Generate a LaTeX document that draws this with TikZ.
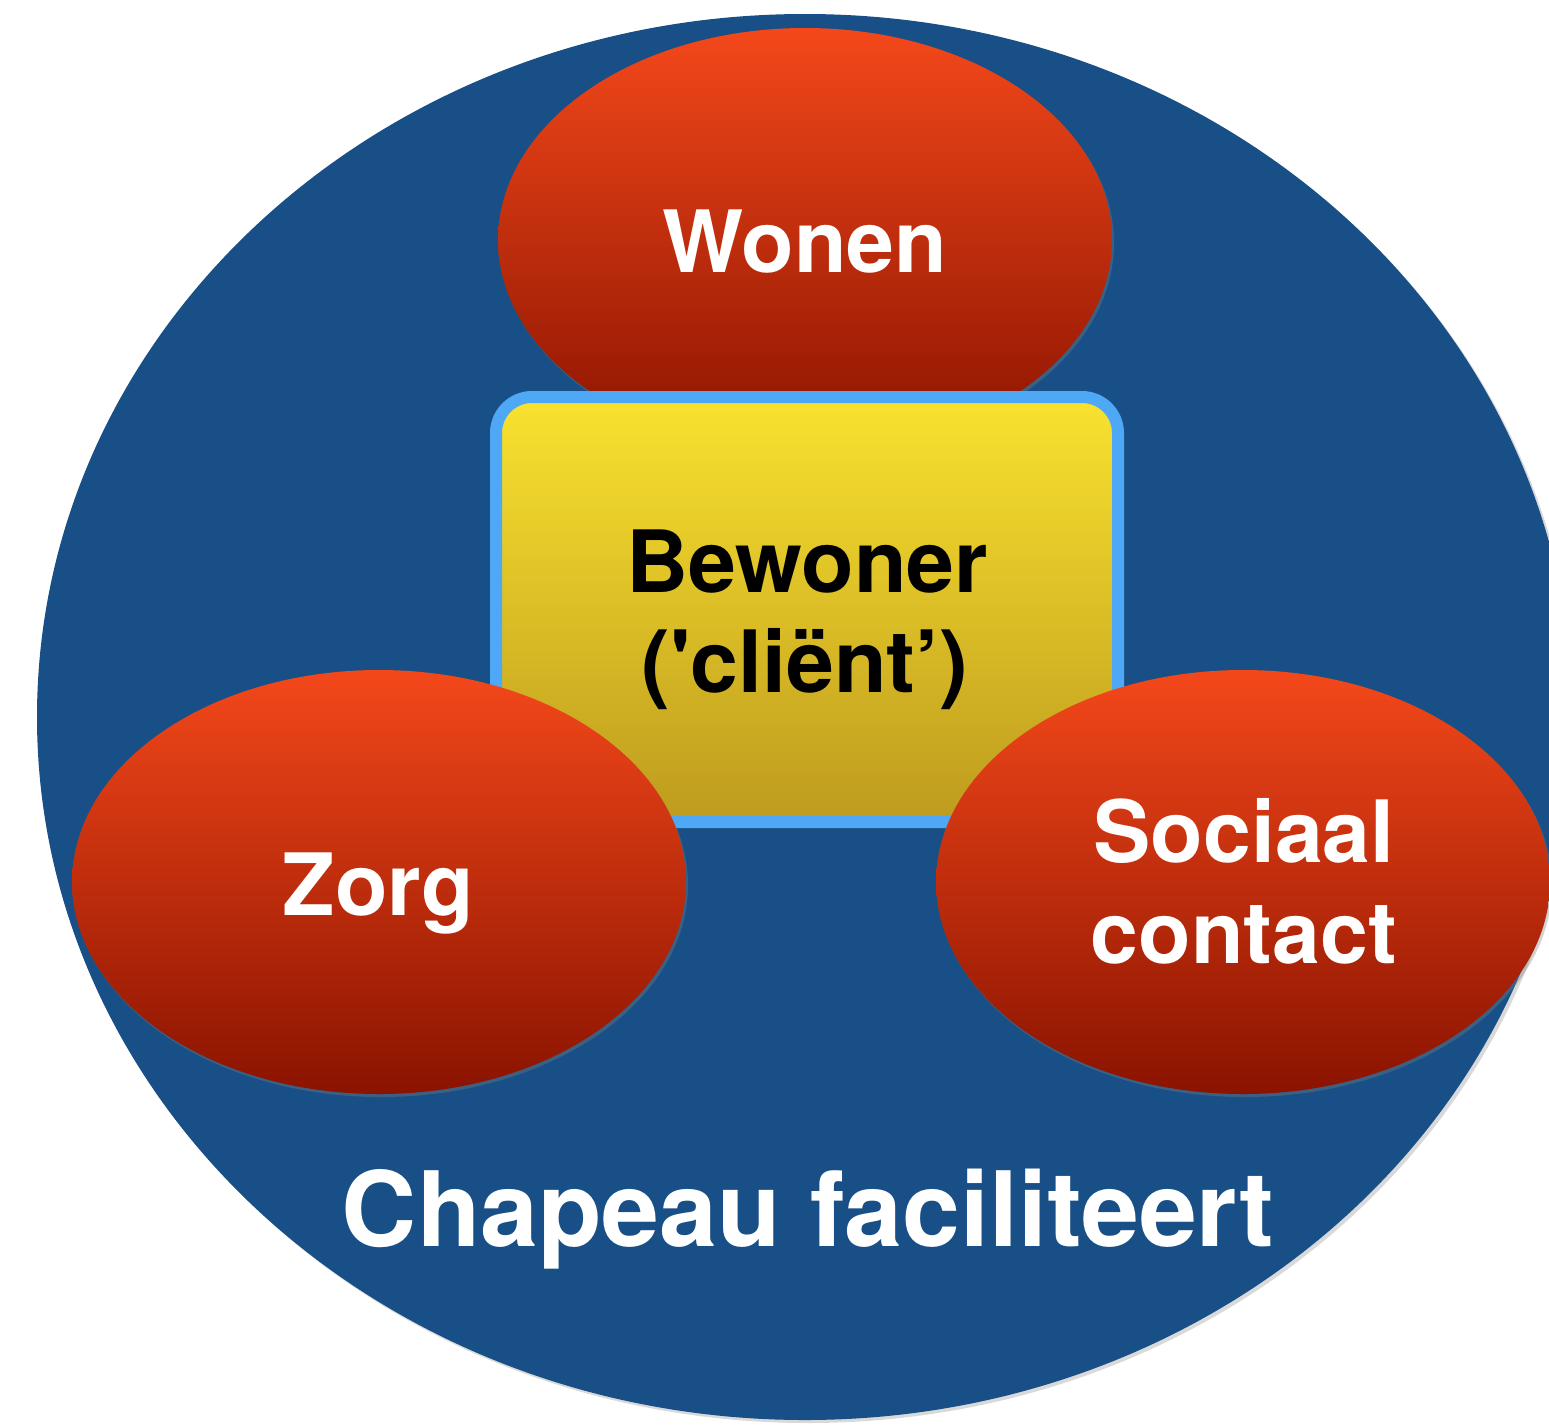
\documentclass[tikz,border=0pt]{standalone}
\usepackage{fontspec}
\setmainfont{TeX Gyre Heros}[Ligatures=ResetAll]
\usetikzlibrary{shadows,shapes.geometric}
\definecolor{bgblue}{HTML}{174F86}
\definecolor{redtop}{HTML}{F4481A}
\definecolor{redbot}{HTML}{8A1300}
\definecolor{yeltop}{HTML}{F9E22F}
\definecolor{yelbot}{HTML}{BE9B1E}
\definecolor{rimblue}{HTML}{4FA8F5}
\newcommand{\straightq}{{\XeTeXglyph\XeTeXglyphindex "quotesingle" \relax}}
\tikzset{
  redell/.style={ellipse, minimum width=614pt, minimum height=424pt, inner sep=0pt,
    top color=redtop, bottom color=redbot, draw=none,
    drop shadow={shadow xshift=2pt, shadow yshift=-3pt, opacity=0.35}},
  whitetxt/.style={text=white, font=\bfseries, align=center},
}
\begin{document}
\begin{tikzpicture}[x=1pt,y=-1pt]
\useasboundingbox (0,0) rectangle (1549,1427);
\begin{scope}
\clip (0,0) rectangle (1549,1427);
\node[ellipse, fill=bgblue, minimum width=1536pt, minimum height=1406pt, inner sep=0pt,
  drop shadow={shadow xshift=3pt, shadow yshift=-3pt, opacity=0.3}] (circle) at (805,717) {};
\end{scope}
\node[redell] (wonen) at (805,240) {};
\node[whitetxt, anchor=base, font=\bfseries\fontsize{86}{100}\selectfont] (wonenT) at (805,272) {Wonen};
% central box
\path[top color=yeltop, bottom color=yelbot, draw=rimblue, line width=12pt, rounded corners=36pt,
  drop shadow={shadow xshift=2pt, shadow yshift=-3pt, opacity=0.35}]
  (496,397) rectangle (1118,822);
\node[inner sep=0pt] (box) at (807,609) {};
\node[anchor=base, font=\bfseries\fontsize{86}{100}\selectfont, align=center] (bew1) at (807,592) {Bewoner};
\node[anchor=base, font=\bfseries\fontsize{86}{100}\selectfont, align=center] (bew2) at (805,692) {(\straightq cliënt’)};
\node[redell] (zorg) at (379,882) {};
\node[redell] (sociaal) at (1243,882) {};
\node[whitetxt, anchor=base, font=\bfseries\fontsize{86}{100}\selectfont] (zorgT) at (378,915) {Zorg};
\node[whitetxt, anchor=base, font=\bfseries\fontsize{86}{100}\selectfont] (soc1) at (1244,862) {Sociaal};
\node[whitetxt, anchor=base, font=\bfseries\fontsize{86}{100}\selectfont] (soc2) at (1244,963) {contact};
\node[whitetxt, anchor=base, font=\bfseries\fontsize{104}{120}\selectfont] (chap) at (808,1246) {Chapeau faciliteert};
\end{tikzpicture}
\end{document}
